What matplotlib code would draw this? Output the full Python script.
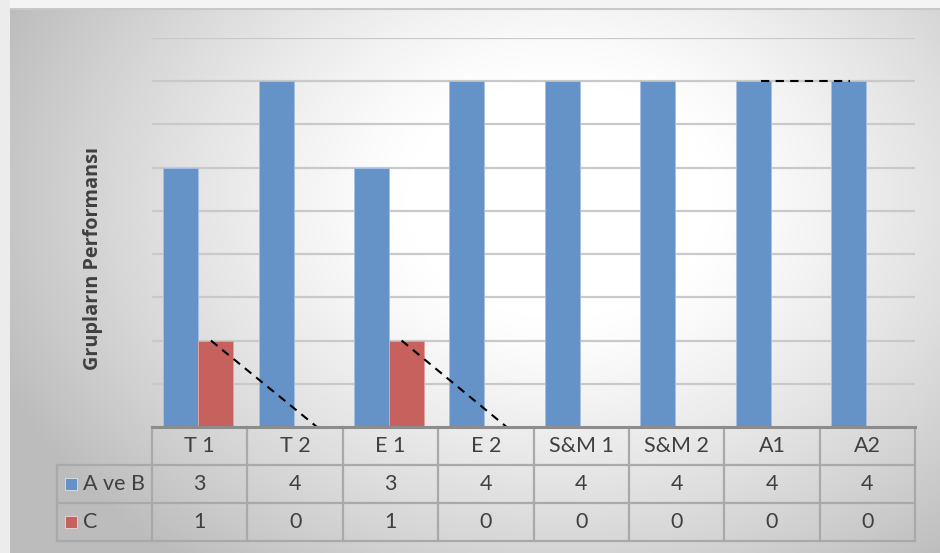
import numpy as np
import matplotlib
matplotlib.use("Agg")
from matplotlib import pyplot as plt
from matplotlib.patches import Rectangle

plt.rcParams['font.family'] = ['Lato', 'DejaVu Sans']

# data
groups = ["T 1", "T 2", "E 1", "E 2", "S&M 1", "S&M 2", "A1", "A2"]
ab_vals = [3, 4, 3, 4, 4, 4, 4, 4]
c_vals = [1, 0, 1, 0, 0, 0, 0, 0]
series_names = ["A ve B", "C"]
ylabel = "Grupların Performansı"

blue = "#6592c7"
red = "#c7615e"
txt = "#404040"
cellc = "#a9a9a9"

W, H = 940, 553
fig = plt.figure(figsize=(W / 100, H / 100), dpi=100)
fig.patch.set_facecolor("#f4f4f4")

# chart area background (radial grey gradient, white in the middle)
bg = fig.add_axes([10 / W, 0, (W - 10) / W, (H - 8) / H])
bg.set_axis_off()
gx, gy = np.meshgrid(np.linspace(10, W, 300), np.linspace(8, H, 200))
d = np.sqrt(((gx - 560) / 520) ** 2 + ((gy - 200) / 400) ** 2)
shade = 1 - 0.22 * np.clip((d - 0.3) / 0.75, 0, 1.15) ** 1.2
img = np.dstack([shade, shade, shade])
bg.imshow(img, aspect="auto", extent=[0, 1, 0, 1], origin="upper")
bg.set_xlim(0, 1)
bg.set_ylim(0, 1)
bg.plot([0, 1], [0.998, 0.998], color="#c8c8c8", lw=1.5)
fig.patches.append(Rectangle((0, 0), 10 / W, 1, transform=fig.transFigure,
                             facecolor="#ececec", edgecolor="none", zorder=-1))

# plot area
px0, px1, py0, py1 = 152, 915, 38, 427
ax = fig.add_axes([px0 / W, (H - py1) / H, (px1 - px0) / W, (py1 - py0) / H])
ax.set_facecolor("none")
x = np.arange(len(groups)) - 0.015
bw = 0.367
ax.bar(x - bw / 2, ab_vals, bw, color=blue, edgecolor="#a5c0e2", linewidth=0.7, zorder=3)
ax.bar(x + bw / 2, c_vals, bw, color=red, edgecolor="#e3a09e", linewidth=0.7, zorder=3)
for g in np.arange(0.5, 4.51, 0.5):
    ax.axhline(g, color="#c9c9c9", lw=1.6, zorder=1)
ax.set_xlim(-0.5, len(groups) - 0.5)
ax.set_ylim(0, 4.5)
ax.set_xticks([])
ax.set_yticks([])
for s in ax.spines.values():
    s.set_visible(False)

# dashed connector lines
dash = dict(color="black", lw=1.5, ls=(0, (4, 3)), zorder=4, clip_on=False)
ax.plot([0.118, 1.23], [c_vals[0], c_vals[1]], **dash)
ax.plot([2.117, 3.218], [c_vals[2], c_vals[3]], **dash)
ax.plot([5.89, 6.817], [ab_vals[6], ab_vals[7]], **dash)

fig.text(93 / W, 1 - 258 / H, ylabel, rotation=90, ha="center", va="center",
         fontsize=14.3, fontweight="bold", color=txt, family=["Open Sans", "DejaVu Sans"])

# data table below the plot
ty0, ty1 = 427, 541
tab = fig.add_axes([px0 / W, (H - ty1) / H, (px1 - px0) / W, (ty1 - ty0) / H])
tab.set_xlim(-0.5, len(groups) - 0.5)
tab.set_ylim(3, 0)
tab.set_axis_off()
n = len(groups)
lk = dict(color=cellc, lw=1.6, clip_on=False, solid_capstyle="projecting")
for r in (1, 2, 3):
    tab.plot([-1.5, n - 0.5], [r, r], **lk)
for c in np.arange(0.5, n - 0.5, 1):
    tab.plot([c, c], [0, 3], **lk)
tab.plot([-0.5, -0.5], [0, 3], **lk)
tab.plot([n - 0.5, n - 0.5], [0, 3], **lk)
tab.plot([-1.5, -1.5], [1, 3], **lk)
tab.plot([-0.5, n - 0.5], [0, 0], color="#8c8c8c", lw=2.2, clip_on=False)

fs = 15.5
for i, g in enumerate(groups):
    tab.text(i, 0.5, g, ha="center", va="center", fontsize=fs, color=txt)
    tab.text(i, 1.5, str(ab_vals[i]), ha="center", va="center", fontsize=fs, color=txt)
    tab.text(i, 2.5, str(c_vals[i]), ha="center", va="center", fontsize=fs, color=txt)

for r, (name, col) in enumerate(zip(series_names, [blue, red])):
    tab.add_patch(Rectangle((-1.415, 1.5 + r - 0.16), 0.13, 0.32, facecolor=col,
                            edgecolor="#ffffff", lw=0.4, clip_on=False))
    tab.text(-1.22, 1.5 + r, name, ha="left", va="center", fontsize=fs, color=txt)

fig.savefig("out.png", dpi=100)
